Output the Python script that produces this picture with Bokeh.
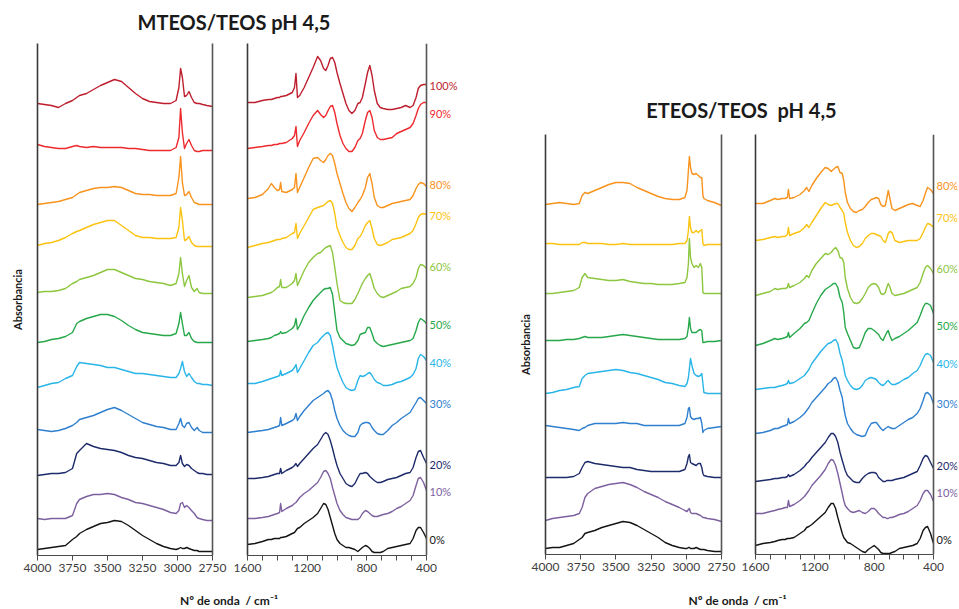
from bokeh.plotting import figure
from bokeh.models import Range1d, FixedTicker, LinearAxis, ColumnDataSource, LabelSet, Div, Span
from bokeh.layouts import row, column
from bokeh.core.properties import value
from bokeh.embed import file_html
from bokeh.resources import INLINE

# ------------------------------------------------------------------ data
# wavenumbers (cm-1)
wn_mteos_hi = [4000, 3950, 3900, 3850, 3800, 3750, 3720, 3700, 3650, 3600, 3550, 3500, 3450, 3400, 3350,
               3300, 3250, 3200, 3150, 3100, 3050, 3010, 2990, 2978, 2965, 2950, 2935, 2918, 2900, 2880,
               2860, 2845, 2820, 2790, 2750]
wn_mteos_lo = [1600, 1550, 1500, 1460, 1440, 1420, 1400, 1385, 1378, 1370, 1340, 1300, 1285, 1275, 1265,
               1250, 1220, 1190, 1160, 1130, 1110, 1090, 1075, 1060, 1045, 1030, 1015, 1000, 980, 960,
               940, 920, 900, 880, 860, 845, 830, 810, 795, 780, 765, 750, 730, 710, 690, 660, 630, 600,
               570, 540, 510, 490, 470, 455, 440, 420, 400]
wn_eteos_hi = [4000, 3950, 3900, 3850, 3800, 3760, 3740, 3720, 3700, 3650, 3600, 3550, 3500, 3450, 3400,
               3350, 3300, 3250, 3200, 3150, 3100, 3050, 3010, 2995, 2985, 2978, 2970, 2960, 2945, 2930,
               2915, 2900, 2890, 2882, 2875, 2850, 2800, 2750]
wn_eteos_lo = [1600, 1550, 1500, 1470, 1450, 1420, 1400, 1385, 1378, 1370, 1340, 1300, 1270, 1255, 1240,
               1220, 1190, 1160, 1130, 1110, 1090, 1075, 1060, 1045, 1030, 1015, 1005, 995, 980, 960,
               940, 920, 900, 880, 860, 840, 820, 800, 785, 770, 755, 740, 725, 715, 705, 695, 680, 660,
               630, 600, 570, 540, 510, 490, 470, 455, 440, 420, 400]

# sample labels
mteos_pct = ["100%", "90%", "80%", "70%", "60%", "50%", "40%", "30%", "20%", "10%", "0%"]
eteos_pct = ["80%", "70%", "60%", "50%", "40%", "30%", "20%", "10%", "0%"]

# MTEOS/TEOS stacked absorbance (a.u.), 4000-2750 cm-1
m100_hi = [449, 448, 447, 445, 449, 452, 455, 457, 459, 463, 467, 470, 473, 471, 465, 459, 454, 451, 450, 449,
           449, 452, 465, 484, 475, 456, 457, 461, 455, 450, 449, 449, 448, 447, 446]
m90_hi = [408, 406, 405, 404, 404, 406, 407, 406, 405, 406, 405, 405, 405, 405, 404, 404, 403, 402, 402, 402,
          402, 405, 415, 444, 420, 404, 409, 413, 407, 402, 401, 401, 402, 402, 402]
m80_hi = [348, 349, 350, 351, 353, 355, 358, 360, 362, 364, 365, 365, 366, 365, 362, 359, 358, 358, 357, 357,
          357, 359, 375, 396, 370, 357, 358, 361, 355, 350, 349, 348, 348, 348, 348]
m70_hi = [307, 309, 310, 312, 315, 319, 321, 322, 325, 328, 330, 332, 332, 327, 322, 317, 315, 315, 314, 314,
          314, 315, 325, 345, 332, 312, 313, 316, 310, 307, 306, 306, 306, 306, 306]
m60_hi = [260, 261, 261, 262, 264, 269, 271, 273, 275, 277, 280, 283, 283, 280, 277, 274, 273, 271, 270, 269,
          267, 269, 279, 295, 279, 266, 272, 277, 265, 261, 264, 260, 259, 259, 259]
m50_hi = [210, 211, 213, 214, 216, 220, 229, 231, 234, 236, 238, 238, 236, 232, 227, 223, 220, 219, 218, 217,
          217, 219, 229, 240, 229, 217, 217, 220, 214, 211, 210, 210, 210, 210, 210]
m40_hi = [165, 167, 169, 170, 174, 177, 186, 190, 189, 188, 187, 185, 185, 183, 181, 179, 179, 178, 177, 176,
          175, 175, 179, 184, 191, 181, 176, 179, 175, 171, 169, 169, 168, 168, 167]
m30_hi = [123, 122, 121, 122, 124, 127, 130, 133, 135, 137, 140, 143, 145, 142, 138, 134, 130, 128, 126, 125,
          123, 123, 129, 134, 127, 125, 129, 130, 125, 122, 125, 122, 120, 120, 120]
m20_hi = [77, 78, 79, 79, 80, 84, 99, 102, 109, 106, 104, 103, 102, 100, 97, 95, 94, 92, 90, 89,
          87, 87, 90, 97, 89, 86, 88, 87, 84, 82, 80, 79, 79, 78, 78]
m10_hi = [34, 33, 34, 34, 34, 37, 49, 53, 56, 58, 58, 59, 58, 55, 53, 50, 49, 47, 45, 43,
          40, 39, 42, 49, 50, 45, 47, 45, 42, 39, 35, 34, 33, 32, 32]
m0_hi = [3, 4, 5, 6, 7, 13, 16, 19, 23, 26, 29, 30, 32, 31, 27, 22, 17, 13, 9, 6,
         4, 3, 4, 5, 4, 4, 5, 4, 3, 2, 2, 1, 1, 1, 1]

# MTEOS/TEOS stacked absorbance (a.u.), 1600-400 cm-1
m100_lo = [450, 450, 452, 453, 453, 454, 455, 455, 456, 456, 457, 460, 465, 479, 455, 457, 465, 475, 485, 496,
           492, 484, 482, 487, 494, 495, 490, 480, 469, 459, 449, 442, 439, 442, 449, 450, 455, 469, 480, 487,
           477, 462, 449, 445, 444, 443, 443, 444, 445, 447, 445, 447, 455, 464, 467, 468, 468]
m90_lo = [404, 405, 406, 407, 407, 408, 408, 409, 409, 409, 410, 414, 417, 426, 406, 412, 420, 429, 437, 442,
          438, 435, 437, 442, 446, 447, 440, 429, 417, 409, 404, 401, 401, 405, 412, 414, 419, 432, 440, 442,
          435, 422, 415, 413, 413, 414, 415, 419, 421, 423, 425, 429, 437, 444, 448, 450, 450]
m80_lo = [354, 355, 358, 364, 369, 365, 362, 363, 370, 361, 360, 363, 365, 379, 360, 365, 375, 385, 394, 395,
          392, 390, 393, 397, 399, 397, 389, 379, 369, 359, 350, 344, 341, 345, 350, 353, 357, 365, 375, 379,
          369, 355, 347, 345, 345, 347, 349, 350, 351, 352, 353, 357, 364, 368, 370, 369, 366]
m70_lo = [305, 307, 309, 310, 311, 312, 313, 313, 313, 314, 315, 319, 320, 329, 314, 319, 327, 335, 343, 345,
          346, 347, 349, 351, 352, 349, 339, 325, 317, 310, 305, 303, 303, 307, 314, 316, 320, 327, 330, 332,
          324, 314, 308, 307, 308, 310, 313, 314, 315, 317, 319, 322, 329, 335, 338, 339, 338]
m60_lo = [255, 256, 257, 259, 260, 262, 265, 266, 273, 265, 265, 269, 272, 279, 267, 272, 282, 290, 295, 299,
          300, 303, 305, 306, 307, 300, 285, 269, 252, 250, 249, 249, 249, 253, 259, 264, 269, 274, 277, 279,
          272, 264, 259, 256, 255, 257, 259, 261, 264, 265, 266, 269, 275, 284, 288, 287, 284]
m50_lo = [211, 212, 213, 214, 215, 217, 218, 219, 221, 219, 220, 224, 227, 234, 223, 227, 237, 245, 252, 257,
          260, 263, 264, 264, 265, 258, 240, 222, 215, 212, 209, 208, 207, 208, 212, 218, 219, 220, 225, 225,
          219, 212, 209, 207, 206, 207, 208, 209, 210, 211, 212, 214, 222, 230, 234, 232, 229]
m40_lo = [169, 169, 171, 173, 174, 175, 176, 177, 182, 177, 179, 182, 185, 188, 180, 184, 192, 200, 207, 210,
          214, 217, 219, 220, 217, 207, 195, 185, 177, 170, 165, 163, 162, 163, 172, 177, 176, 177, 179, 180,
          177, 173, 170, 169, 167, 167, 168, 170, 171, 173, 175, 178, 184, 194, 198, 196, 192]
m30_lo = [120, 121, 122, 123, 124, 125, 126, 127, 135, 127, 129, 132, 134, 139, 132, 136, 142, 147, 152, 155,
          157, 159, 161, 162, 159, 152, 142, 134, 127, 122, 119, 117, 116, 116, 120, 127, 129, 130, 130, 129,
          125, 122, 119, 118, 118, 122, 127, 130, 134, 137, 140, 145, 150, 154, 155, 152, 149]
m20_lo = [74, 74, 75, 76, 77, 78, 79, 79, 84, 79, 82, 85, 87, 89, 86, 89, 94, 99, 104, 108,
          113, 118, 120, 118, 112, 104, 95, 87, 79, 74, 69, 67, 66, 69, 75, 79, 79, 80, 79, 76,
          74, 72, 70, 70, 71, 73, 74, 75, 77, 79, 80, 85, 95, 101, 102, 95, 89]
m10_lo = [34, 34, 35, 36, 37, 38, 39, 40, 49, 41, 44, 47, 49, 50, 52, 55, 59, 62, 66, 70,
          75, 81, 82, 79, 74, 65, 57, 49, 42, 38, 35, 34, 33, 33, 33, 35, 39, 42, 41, 39,
          37, 36, 36, 37, 38, 39, 41, 44, 46, 49, 52, 57, 67, 74, 75, 70, 62]
m0_lo = [8, 9, 11, 13, 13, 14, 14, 14, 15, 15, 16, 19, 20, 22, 24, 25, 29, 32, 35, 39,
         44, 49, 48, 43, 35, 27, 19, 13, 9, 7, 5, 5, 4, 3, 1, 3, 5, 7, 6, 4,
         1, 0, 0, 0, 1, 4, 5, 6, 7, 8, 9, 14, 22, 25, 25, 20, 14]

# ETEOS/TEOS stacked absorbance (a.u.), 4000-2750 cm-1
e80_hi = [349, 350, 351, 350, 349, 350, 358, 361, 360, 363, 366, 369, 371, 371, 370, 366, 363, 360, 357, 355,
          354, 354, 356, 363, 383, 397, 386, 380, 379, 380, 378, 376, 376, 358, 355, 353, 351, 348]
e70_hi = [310, 310, 309, 309, 309, 309, 311, 311, 310, 310, 310, 309, 309, 310, 309, 309, 309, 309, 309, 309,
          309, 310, 310, 313, 323, 337, 326, 321, 321, 323, 321, 323, 324, 310, 308, 309, 309, 309]
e60_hi = [260, 260, 261, 262, 263, 266, 276, 280, 276, 275, 274, 273, 273, 274, 272, 271, 270, 270, 269, 269,
          269, 270, 271, 276, 290, 315, 296, 290, 286, 288, 286, 290, 286, 261, 260, 260, 260, 260]
e50_hi = [213, 213, 213, 214, 214, 215, 216, 217, 216, 216, 216, 217, 218, 219, 218, 217, 216, 215, 214, 214,
          214, 214, 215, 217, 226, 236, 225, 221, 221, 221, 223, 224, 223, 211, 211, 212, 212, 213]
e40_hi = [160, 161, 163, 164, 166, 167, 175, 178, 180, 181, 182, 183, 184, 183, 181, 180, 178, 176, 174, 171,
          170, 168, 167, 170, 176, 185, 195, 188, 180, 178, 177, 178, 180, 170, 161, 160, 160, 160]
e30_hi = [128, 127, 126, 125, 124, 123, 125, 126, 128, 130, 130, 130, 130, 131, 130, 130, 128, 128, 128, 128,
          128, 128, 130, 136, 145, 146, 137, 135, 134, 135, 135, 136, 130, 121, 123, 125, 126, 127]
e20_hi = [76, 76, 76, 76, 77, 80, 86, 91, 92, 90, 89, 88, 87, 86, 86, 84, 83, 82, 82, 82,
          82, 82, 84, 90, 97, 99, 91, 90, 89, 88, 90, 90, 86, 80, 78, 77, 76, 76]
e10_hi = [33, 35, 36, 37, 38, 40, 46, 56, 60, 65, 67, 69, 70, 71, 69, 66, 62, 59, 56, 52,
          49, 46, 43, 42, 44, 45, 41, 40, 40, 40, 39, 38, 37, 36, 36, 35, 34, 32]
e0_hi = [5, 6, 6, 8, 10, 14, 16, 20, 21, 23, 26, 28, 30, 32, 31, 28, 24, 20, 16, 11,
         8, 6, 5, 5, 6, 6, 5, 5, 5, 6, 5, 4, 4, 4, 4, 3, 2, 2]

# ETEOS/TEOS stacked absorbance (a.u.), 1600-400 cm-1
e80_lo = [350, 350, 353, 355, 354, 355, 355, 356, 364, 355, 356, 359, 363, 366, 362, 368, 375, 381, 386, 385,
          382, 384, 386, 387, 381, 380, 373, 361, 351, 345, 342, 341, 343, 344, 347, 351, 354, 355, 356, 355,
          349, 347, 348, 355, 363, 356, 345, 343, 345, 347, 349, 350, 348, 347, 353, 360, 366, 364, 360]
e70_lo = [313, 314, 316, 317, 316, 317, 317, 319, 326, 318, 320, 322, 326, 329, 326, 331, 338, 345, 351, 349,
          348, 349, 350, 350, 346, 343, 340, 331, 321, 313, 308, 306, 307, 310, 315, 318, 320, 320, 319, 318,
          317, 313, 311, 315, 320, 322, 321, 313, 311, 312, 313, 313, 313, 315, 321, 326, 330, 329, 326]
e60_lo = [258, 260, 262, 265, 264, 265, 265, 266, 270, 266, 268, 271, 275, 278, 276, 283, 290, 295, 300, 299,
          301, 304, 306, 303, 296, 295, 291, 276, 265, 256, 251, 250, 251, 255, 260, 266, 269, 270, 269, 266,
          260, 259, 261, 266, 270, 267, 260, 258, 259, 260, 262, 264, 266, 271, 280, 286, 288, 285, 280]
e50_lo = [208, 210, 213, 215, 214, 215, 216, 217, 221, 216, 220, 225, 230, 231, 233, 240, 250, 258, 264, 266,
          268, 270, 270, 266, 256, 251, 241, 226, 220, 213, 206, 205, 206, 213, 221, 225, 225, 223, 221, 219,
          215, 213, 218, 221, 223, 218, 213, 215, 217, 220, 223, 227, 231, 238, 246, 250, 250, 248, 240]
e40_lo = [164, 165, 166, 166, 167, 168, 169, 170, 173, 170, 171, 175, 178, 181, 184, 190, 196, 202, 207, 210,
          211, 213, 214, 210, 200, 193, 186, 178, 173, 168, 165, 164, 165, 168, 173, 175, 176, 175, 174, 171,
          169, 168, 170, 172, 173, 171, 169, 169, 171, 174, 176, 180, 183, 188, 195, 199, 200, 198, 191]
e30_lo = [120, 121, 123, 125, 125, 127, 128, 129, 135, 130, 132, 136, 140, 143, 146, 151, 156, 161, 166, 170,
          172, 175, 176, 172, 163, 156, 146, 138, 130, 125, 121, 119, 118, 117, 118, 125, 130, 131, 131, 128,
          125, 123, 125, 126, 127, 126, 125, 125, 128, 131, 134, 136, 140, 145, 153, 160, 161, 158, 150]
e20_lo = [72, 73, 74, 75, 75, 76, 76, 77, 79, 77, 79, 83, 87, 90, 92, 96, 101, 106, 111, 116,
          120, 120, 117, 111, 101, 93, 88, 83, 78, 75, 72, 71, 71, 75, 78, 80, 81, 81, 80, 76,
          74, 72, 72, 73, 73, 73, 73, 74, 75, 76, 78, 80, 82, 88, 95, 98, 97, 91, 85]
e10_lo = [40, 40, 42, 43, 44, 45, 46, 46, 53, 47, 49, 53, 57, 60, 63, 68, 73, 78, 84, 90,
          94, 93, 88, 80, 70, 60, 53, 48, 45, 42, 41, 42, 43, 41, 40, 42, 45, 45, 43, 40,
          38, 36, 36, 35, 35, 36, 36, 37, 39, 40, 42, 45, 48, 53, 60, 63, 63, 59, 52]
e0_lo = [8, 10, 11, 12, 13, 14, 14, 15, 15, 15, 16, 20, 23, 26, 27, 29, 33, 37, 41, 46,
         50, 50, 45, 36, 28, 20, 16, 14, 11, 10, 8, 6, 4, 2, 1, 4, 6, 8, 6, 4,
         1, 0, 0, 0, 0, 0, 1, 2, 5, 6, 7, 8, 10, 15, 23, 26, 27, 20, 10]

# ------------------------------------------------------------------ styling
FONT = "Lato"
pct_color = {"100%": "#BE1E2D", "90%": "#EE2A2E", "80%": "#F7931E", "70%": "#FBC30F",
             "60%": "#8DC63F", "50%": "#26A84A", "40%": "#29B5E8", "30%": "#2F7FCF",
             "20%": "#1E2B6B", "10%": "#7D619F", "0%": "#141414"}
# small vertical nudges (px) of the percentage labels relative to the curve end
m_nudge = {"100%": -1, "90%": -11, "80%": 2, "70%": -1, "60%": 2, "50%": -1,
           "40%": -2, "30%": 0, "20%": -1, "10%": -1, "0%": -1}
e_nudge = {"80%": 8, "70%": 10, "60%": 5, "50%": -12, "40%": -1, "30%": 0,
           "20%": 3, "10%": 9, "0%": 4}

m_series = list(zip(mteos_pct,
                    [m100_hi, m90_hi, m80_hi, m70_hi, m60_hi, m50_hi, m40_hi, m30_hi, m20_hi, m10_hi, m0_hi],
                    [m100_lo, m90_lo, m80_lo, m70_lo, m60_lo, m50_lo, m40_lo, m30_lo, m20_lo, m10_lo, m0_lo]))
e_series = list(zip(eteos_pct,
                    [e80_hi, e70_hi, e60_hi, e50_hi, e40_hi, e30_hi, e20_hi, e10_hi, e0_hi],
                    [e80_lo, e70_lo, e60_lo, e50_lo, e40_lo, e30_lo, e20_lo, e10_lo, e0_lo]))


def make_panel(width, height, xr, yr, ticks, minor, borders, ylabel=None, data_px=None):
    """data_px: if given, the spectrum occupies only data_px pixels of the frame; the rest
    (right part of the frame) is free room for the sample labels."""
    bl, br, bt, bb = borders
    x0, x1 = xr
    if data_px is not None:
        frame_w = width - bl - br
        per_px = (x0 - x1) / data_px
        x_end = x1 - (frame_w - data_px) * per_px
    else:
        x_end = x1
    p = figure(width=width, height=height, x_range=Range1d(x0, x_end), y_range=Range1d(*yr),
               output_backend="svg", toolbar_location=None, title=None,
               min_border_left=bl, min_border_right=br, min_border_top=bt, min_border_bottom=bb)
    p.xgrid.visible = False
    p.ygrid.visible = False
    p.outline_line_color = None
    p.background_fill_color = "white"
    p.border_fill_color = "white"
    xa = p.xaxis[0]
    xa.ticker = FixedTicker(ticks=ticks, minor_ticks=minor)
    xa.bounds = (min(x0, x1), max(x0, x1))
    xa.axis_line_color = "#4a4a4a"
    xa.axis_line_width = 1.2
    xa.major_tick_line_color = "#4a4a4a"
    xa.minor_tick_line_color = "#4a4a4a"
    xa.major_tick_out = 5
    xa.major_tick_in = 0
    xa.minor_tick_out = 5
    xa.minor_tick_in = 0
    xa.major_label_standoff = 3
    xa.major_label_text_font = FONT
    xa.major_label_text_font_size = "12px"
    xa.major_label_text_color = "#404040"
    ya = p.yaxis[0]
    ya.ticker = FixedTicker(ticks=[])
    ya.axis_line_color = "#3a3a3a"
    ya.axis_line_width = 1.6
    ya.major_tick_line_color = None
    ya.minor_tick_line_color = None
    if ylabel:
        ya.axis_label = ylabel
        ya.axis_label_text_font = FONT
        ya.axis_label_text_font_style = "bold"
        ya.axis_label_text_font_size = "11px"
        ya.axis_label_text_color = "#1a1a1a"
        ya.axis_label_standoff = 14
    if data_px is None:
        right = LinearAxis(ticker=FixedTicker(ticks=[]), axis_line_color="#555555", axis_line_width=1.6,
                           major_tick_line_color=None, minor_tick_line_color=None)
        p.add_layout(right, "right")
    else:
        p.add_layout(Span(location=x1, dimension="height", line_color="#555555", line_width=1.6))
    return p


def draw(p, wn, series_vals, labels):
    for lab, vals in zip(labels, series_vals):
        src = ColumnDataSource(dict(x=wn, y=vals))
        p.line("x", "y", source=src, line_color=pct_color[lab], line_width=1.4, line_join="round")


def add_labels(p, wn, series_vals, labels, nudge):
    src = ColumnDataSource(dict(x=[wn[-1]] * len(labels), y=[v[-1] for v in series_vals],
                                text=labels, col=[pct_color[l] for l in labels],
                                dy=[nudge[l] for l in labels]))
    p.add_layout(LabelSet(x="x", y="y", text="text", source=src, text_color="col",
                          x_offset=3, y_offset="dy", text_baseline="middle", text_align="left",
                          text_font=value(FONT), text_font_size="11px"))


hi_ticks = [4000, 3750, 3500, 3250, 3000, 2750]
lo_ticks = [1600, 1200, 800, 400]
lo_minor = [1500, 1400, 1300, 1100, 1000, 900, 700, 600, 500]

# ---- MTEOS group
A_H = 552
a1 = make_panel(229, A_H, (4000, 2750), (-3, 509), hi_ticks, [], (37, 17, 5, 35), ylabel="Absorbancia")
a2 = make_panel(251, A_H, (1600, 400), (-3, 509), lo_ticks, lo_minor, (18, 2, 5, 35), data_px=179)
draw(a1, wn_mteos_hi, [s[1] for s in m_series], mteos_pct)
draw(a2, wn_mteos_lo, [s[2] for s in m_series], mteos_pct)
add_labels(a2, wn_mteos_lo, [s[2] for s in m_series], mteos_pct, m_nudge)

# ---- ETEOS group
B_H = 465
b1 = make_panel(258, B_H, (4000, 2750), (-1, 419), hi_ticks, [], (65, 17, 9, 36), ylabel="Absorbancia")
b2 = make_panel(221, B_H, (1600, 400), (-1, 419), lo_ticks, lo_minor, (17, 2, 9, 36), data_px=178)
draw(b1, wn_eteos_hi, [s[1] for s in e_series], eteos_pct)
draw(b2, wn_eteos_lo, [s[2] for s in e_series], eteos_pct)
add_labels(b2, wn_eteos_lo, [s[2] for s in e_series], eteos_pct, e_nudge)


def text_div(txt, width, height, size, pad_top, line_h, shift):
    html = ('<div style="width:%dpx;text-align:center;font-family:%s;font-weight:bold;'
            'font-size:%dpx;line-height:%dpx;padding-top:%dpx;color:#1a1a1a;white-space:nowrap;'
            'transform:translateX(%dpx);">%s</div>' % (width, FONT, size, line_h, pad_top, shift, txt))
    return Div(text=html, width=width, height=height, margin=(0, 0, 0, 0))


title_a = text_div("MTEOS/TEOS pH 4,5", 480, 38, 20, 11, 22, -6)
xlab_a = text_div("Nº de onda&nbsp; / cm⁻¹", 480, 19, 12, 3, 16, -11)
title_b = text_div("ETEOS/TEOS&nbsp; pH 4,5", 479, 125, 20, 99, 22, 22)
xlab_b = text_div("Nº de onda&nbsp; / cm⁻¹", 479, 19, 12, 3, 16, 18)

col_a = column(title_a, row(a1, a2, spacing=0), xlab_a, spacing=0)
col_b = column(title_b, row(b1, b2, spacing=0), xlab_b, spacing=0)
layout = row(col_a, col_b, spacing=0)

open("out.html", "w").write(file_html(layout, INLINE))
